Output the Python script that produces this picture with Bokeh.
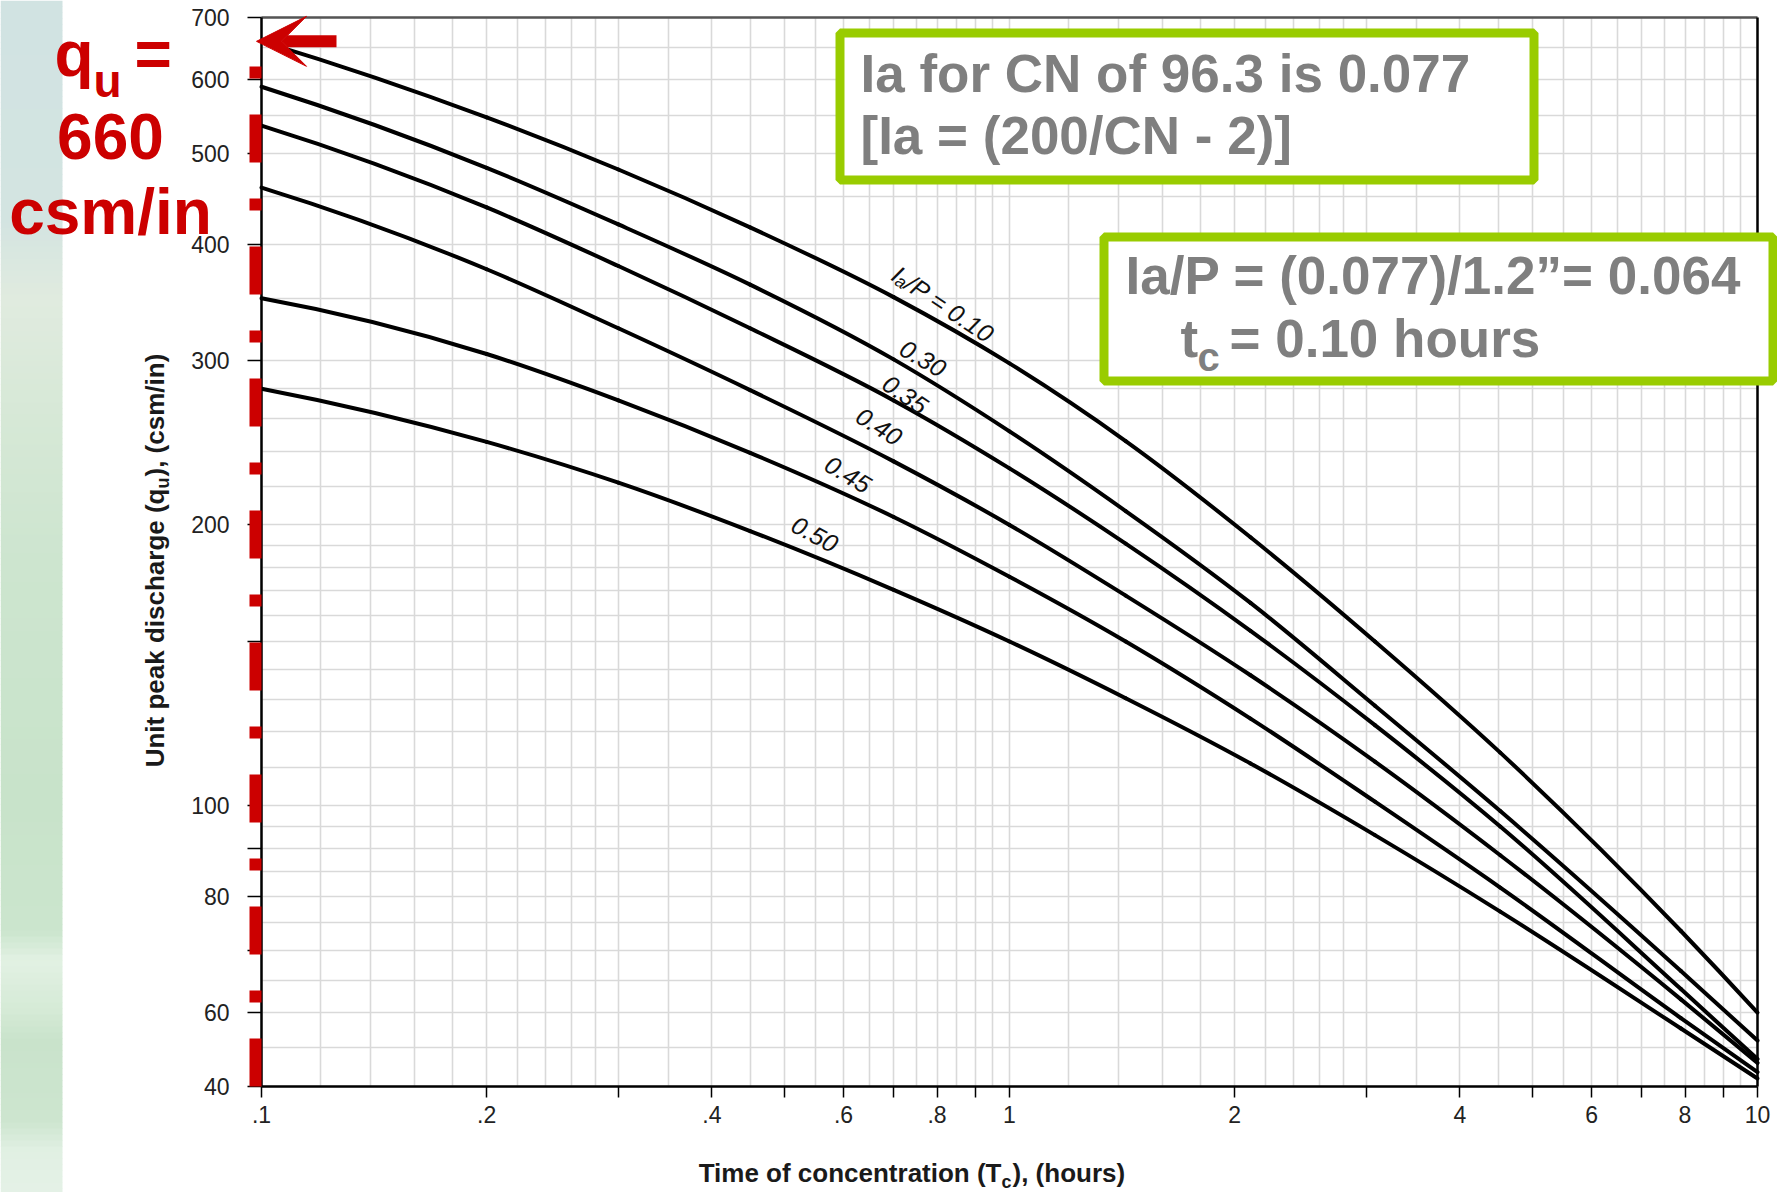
import numpy as np
from bokeh.plotting import figure
from bokeh.models import (FixedTicker, Label, Arrow, VeeHead, BoxAnnotation, Range1d)
from bokeh.embed import file_html
from bokeh.resources import INLINE

# ---------------- data ----------------
curve_names = ["0.10", "0.30", "0.35", "0.40", "0.45", "0.50"]
tc_hours = [0.1, 0.2, 0.3, 0.45, 0.7, 1.0, 1.43, 2.1, 3.08, 4.53, 7.9, 10.0]
qu_010 = [660, 547, 481, 417, 351, 298, 246, 194, 150, 114, 73.4, 60]
qu_030 = [590, 483, 420, 362, 301, 252, 207, 165, 128, 98.7, 66.5, 56]
qu_035 = [536, 438, 379, 325, 272, 230, 191, 154, 122, 95, 63.6, 53.5]
qu_040 = [460, 376, 325, 279, 234, 200, 168, 138, 111.5, 88.5, 62, 53]
qu_045 = [350, 305, 272, 239, 204, 176, 150, 124, 101, 81.7, 59.2, 51.8]
qu_050 = [280, 245.5, 222, 197, 170.4, 150, 130.4, 111, 93, 77, 57.7, 51]

x_ticks = [0.1, 0.2, 0.3, 0.4, 0.5, 0.6, 0.7, 0.8, 0.9, 1, 2, 3, 4, 5, 6, 7, 8, 9, 10]
x_tick_labels = [".1", ".2", "", ".4", "", ".6", "", ".8", "", "1", "2", "", "4", "", "6", "", "8", "", "10"]
y_ticks = [50, 60, 70, 80, 90, 100, 150, 200, 300, 400, 500, 600, 700]
y_tick_labels = ["40", "60", "", "80", "", "100", "", "200", "300", "400", "500", "600", "700"]
q_marked = 660   # value pointed at by the red arrow

# ---------------- geometry (page pixels) ----------------
W, H = 1777, 1192
FL, FR, FT, FB = 261, 1757, 17, 1086          # plot-area edges
XMIN, XMAX, YMIN, YMAX = 0.1, 10.0, 50.0, 700.0
LX = np.log10(XMAX / XMIN)
LY = np.log10(YMAX / YMIN)


def dx(px):
    return XMIN * 10 ** ((px - FL) / (FR - FL) * LX)


def dy(py):
    return YMIN * 10 ** ((FB - py) / (FB - FT) * LY)


p = figure(width=W, height=H, x_axis_type="log", y_axis_type="log",
           x_range=Range1d(dx(0), dx(W)), y_range=Range1d(dy(H), dy(0)),
           output_backend="svg", toolbar_location=None,
           min_border=0, min_border_left=0, min_border_right=0,
           min_border_top=0, min_border_bottom=0)
p.background_fill_color = "white"
p.border_fill_color = "white"
p.outline_line_color = None

# ---------------- left decorative strip (soft vertical gradient) ----------------
stops_y = [0, 220, 300, 420, 560, 800, 930, 960, 1010, 1040, 1120, 1150, 1192]
stops_c = [(209, 227, 226), (211, 228, 225), (224, 235, 223), (214, 232, 214),
           (205, 229, 207), (200, 227, 202), (203, 229, 205), (226, 241, 227),
           (213, 234, 214), (201, 227, 203), (205, 229, 207), (225, 240, 227),
           (228, 241, 230)]
band_top = np.arange(0, H, 6)
band_cols = []
for t in band_top:
    c = [int(round(np.interp(t + 3, stops_y, [s[k] for s in stops_c]))) for k in range(3)]
    band_cols.append("#%02x%02x%02x" % tuple(c))
p.quad(left=dx(0), right=dx(62), top=[dy(t) for t in band_top],
       bottom=[dy(min(t + 6.5, H)) for t in band_top],
       fill_color=band_cols, line_color=None)

# ---------------- grid ----------------
xgrid_vals = ([round(v, 2) for v in np.arange(0.1, 0.3, 0.02)] +
              [round(v, 2) for v in np.arange(0.3, 1.0, 0.05)] +
              [round(v, 1) for v in np.arange(1.0, 3.0, 0.2)] +
              [round(v, 1) for v in np.arange(3.0, 10.01, 0.5)])
ygrid_vals = (list(range(50, 100, 5)) + list(range(100, 200, 10)) +
              list(range(200, 300, 20)) + list(range(300, 701, 50)))
p.xgrid.ticker = FixedTicker(ticks=xgrid_vals)
p.ygrid.ticker = FixedTicker(ticks=ygrid_vals)
p.xgrid.bounds = (XMIN, XMAX)
p.xgrid.cross_bounds = (YMIN, YMAX)
p.ygrid.bounds = (YMIN, YMAX)
p.ygrid.cross_bounds = (XMIN, XMAX)
for g in (p.xgrid, p.ygrid):
    g.grid_line_color = "#d9d9d9"
    g.grid_line_width = 1.6

# ---------------- axes, pinned to the plot-area edges ----------------
p.xaxis.fixed_location = YMIN
p.yaxis.fixed_location = XMIN
p.xaxis.bounds = (XMIN, XMAX)
p.yaxis.bounds = (YMIN, YMAX)
p.xaxis.ticker = FixedTicker(ticks=x_ticks, minor_ticks=[])
p.yaxis.ticker = FixedTicker(ticks=y_ticks, minor_ticks=[])
p.xaxis.major_label_overrides = dict(zip(x_ticks, x_tick_labels))
p.yaxis.major_label_overrides = dict(zip(y_ticks, y_tick_labels))
for ax in (p.xaxis, p.yaxis):
    ax.axis_line_color = "black"
    ax.axis_line_width = 2.5
    ax.major_tick_line_color = "black"
    ax.major_tick_line_width = 1.5
    ax.major_tick_in = 0
    ax.minor_tick_in = 0
    ax.minor_tick_out = 0
    ax.major_label_text_font = "Liberation Sans"
    ax.major_label_text_font_size = "23px"
    ax.major_label_text_color = "#222222"
p.yaxis.major_tick_out = 14
p.yaxis.major_label_standoff = 18
p.xaxis.major_tick_out = 11
p.xaxis.major_label_standoff = 8

# plot-area border (top and right)
p.line([XMIN, XMAX], [YMAX, YMAX], line_color="#555555", line_width=2.5)
p.line([XMAX, XMAX], [YMIN, YMAX], line_color="black", line_width=2.5)


# ---------------- curves: smooth Hermite/Bezier segments through the read points ----------------
def bezier_through(xs, ys):
    u = np.log10(np.asarray(xs, float))
    v = np.log10(np.asarray(ys, float))
    h = np.diff(u)
    d = np.diff(v) / h
    m = np.empty(len(u))
    # three-point (parabolic) derivative for uneven spacing
    m[1:-1] = (h[1:] * d[:-1] + h[:-1] * d[1:]) / (h[:-1] + h[1:])
    m[0] = 2 * d[0] - m[1]
    m[-1] = 2 * d[-1] - m[-2]
    return dict(x0=10 ** u[:-1], y0=10 ** v[:-1], x1=10 ** u[1:], y1=10 ** v[1:],
                cx0=10 ** (u[:-1] + h / 3), cy0=10 ** (v[:-1] + m[:-1] * h / 3),
                cx1=10 ** (u[1:] - h / 3), cy1=10 ** (v[1:] - m[1:] * h / 3))


for qu in (qu_010, qu_030, qu_035, qu_040, qu_045, qu_050):
    p.bezier(line_color="black", line_width=4, line_cap="round",
             **bezier_through(tc_hours, qu))

# Bokeh places text slightly below its anchor; compensate (fraction of font size)
K_ALPHA = 0.37
K_MID = 0.20


def lab(x, y, text, size, color, align="left", style="bold", angle=0.0,
        font="Liberation Sans", baseline="alphabetic"):
    k = K_ALPHA if baseline == "alphabetic" else K_MID
    x2 = x - np.sin(angle) * k * size
    y2 = y - np.cos(angle) * k * size
    p.add_layout(Label(x=dx(x2), y=dy(y2), text=text, text_align=align,
                       text_baseline=baseline, text_font=font,
                       text_font_style=style, text_font_size=f"{size}px",
                       text_color=color, angle=angle))


# curve labels (centre in page px, angle in radians)
label_pos = [(940, 308, -0.59), (920, 362, -0.53), (902, 398, -0.60),
             (876, 430, -0.56), (845, 478, -0.54), (812, 538, -0.49)]
for name, (lx, ly, ang) in zip(curve_names, label_pos):
    txt = "Iₐ/P = " + name if name == "0.10" else name
    lab(lx, ly, txt, 25, "#111111", align="center", style="italic",
        angle=ang, baseline="middle")

# ---------------- red marks ----------------
RED = "#cc0000"
p.add_layout(Arrow(x_start=dx(255), y_start=YMIN, x_end=dx(255), y_end=dy(60),
                   end=None, line_color=RED, line_width=12, line_dash="48 36 12 36"))
p.add_layout(Arrow(x_start=dx(336), y_start=q_marked, x_end=dx(256), y_end=q_marked,
                   end=VeeHead(size=50, fill_color=RED, line_color=RED),
                   line_color=RED, line_width=12))

lab(54, 77, "q", 64, RED)
lab(93, 98, "u", 46, RED)
lab(134, 77, "=", 64, RED)
lab(110, 160, str(q_marked), 64, RED, align="center")
lab(110, 235, "csm/in", 64, RED, align="center")

# ---------------- green boxes ----------------
GREEN = "#99cc00"
GRAY = "#7f7f7f"
p.add_layout(BoxAnnotation(left=dx(839.5), right=dx(1533.5), top=dy(32.5), bottom=dy(179.5),
                           fill_color="white", fill_alpha=1, line_color=GREEN,
                           line_alpha=1, line_width=9))
p.add_layout(BoxAnnotation(left=dx(1103.5), right=dx(1772.5), top=dy(236.5), bottom=dy(380.5),
                           fill_color="white", fill_alpha=1, line_color=GREEN,
                           line_alpha=1, line_width=9))
lab(860, 93, "Ia for CN of 96.3 is 0.077", 53, GRAY)
lab(860, 155, "[Ia = (200/CN - 2)]", 53, GRAY)
lab(1125, 295, "Ia/P = (0.077)/1.2\u201d= 0.064", 53, GRAY)
lab(1180, 358, "t", 53, GRAY)
lab(1197, 371, "c", 40, GRAY)
lab(1229, 358, "= 0.10 hours", 53, GRAY)

# ---------------- axis titles (with subscripts) ----------------
AX = "#1a1a1a"
lab(1001, 1182, "Time of concentration (T", 26, AX, align="right")
lab(1001, 1188, "c", 18, AX)
lab(1012, 1182, "), (hours)", 26, AX)
lab(164, 488, "Unit peak discharge (q", 26, AX, align="right", angle=np.pi / 2)
lab(169, 488, "u", 18, AX, angle=np.pi / 2)
lab(164, 476, "), (csm/in)", 26, AX, angle=np.pi / 2)

open("out.html", "w").write(file_html(p, INLINE))
